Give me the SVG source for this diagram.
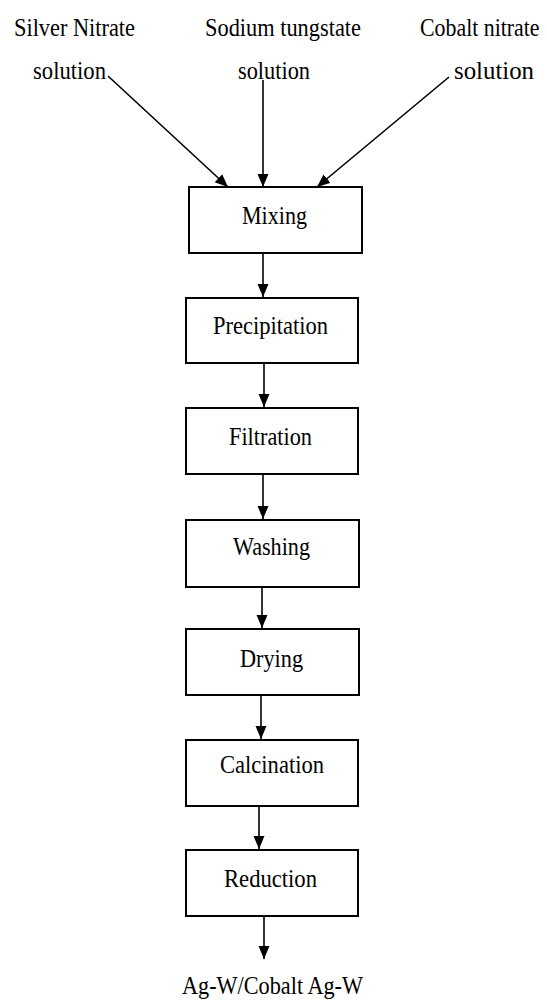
<svg xmlns="http://www.w3.org/2000/svg" width="547" height="1001" viewBox="0 0 547 1001">
<defs>
<marker id="ah" markerUnits="userSpaceOnUse" markerWidth="14" markerHeight="12" refX="13" refY="5.5" orient="auto">
<path d="M0,0 L13,5.5 L0,11 z" fill="#000"/>
</marker>
<style>
.box{fill:#fff;stroke:#000;stroke-width:2}
.t{font-family:"Liberation Serif","Times New Roman",Times,"DejaVu Serif","Noto Serif",serif;font-size:25px;fill:#000}
.c{stroke:#000;stroke-width:1.6;fill:none;marker-end:url(#ah)}
</style>
</defs>
<rect width="547" height="1001" fill="#fff"/>
<g id="in1"><text class="t" x="14" y="36" textLength="121" lengthAdjust="spacingAndGlyphs">Silver Nitrate</text><text class="t" x="33" y="79" textLength="73" lengthAdjust="spacingAndGlyphs">solution</text></g>
<g id="in2"><text class="t" x="205" y="36" textLength="156" lengthAdjust="spacingAndGlyphs">Sodium tungstate</text><text class="t" x="238" y="79" textLength="72" lengthAdjust="spacingAndGlyphs">solution</text></g>
<g id="in3"><text class="t" x="0" y="0" transform="translate(420,36) scale(0.875,1)">Cobalt nitrate</text><text class="t" x="454" y="79" textLength="80" lengthAdjust="spacingAndGlyphs">solution</text></g>
<g id="mixing"><rect class="box" x="189" y="187" width="173" height="66"/><text class="t" x="242" y="224" textLength="65" lengthAdjust="spacingAndGlyphs">Mixing</text></g>
<g id="precipitation"><rect class="box" x="186" y="298" width="172" height="65"/><text class="t" x="213" y="334" textLength="115" lengthAdjust="spacingAndGlyphs">Precipitation</text></g>
<g id="filtration"><rect class="box" x="186" y="408" width="172" height="66"/><text class="t" x="229" y="445" textLength="83" lengthAdjust="spacingAndGlyphs">Filtration</text></g>
<g id="washing"><rect class="box" x="186" y="520" width="173" height="67"/><text class="t" x="233" y="555" textLength="77" lengthAdjust="spacingAndGlyphs">Washing</text></g>
<g id="drying"><rect class="box" x="186" y="629" width="173" height="66"/><text class="t" x="240" y="667" textLength="63" lengthAdjust="spacingAndGlyphs">Drying</text></g>
<g id="calcination"><rect class="box" x="186" y="740" width="172" height="66"/><text class="t" x="220" y="773" textLength="104" lengthAdjust="spacingAndGlyphs">Calcination</text></g>
<g id="reduction"><rect class="box" x="186" y="850" width="172" height="66"/><text class="t" x="224" y="887" textLength="93" lengthAdjust="spacingAndGlyphs">Reduction</text></g>
<g id="output"><text class="t" x="182" y="994" textLength="181" lengthAdjust="spacingAndGlyphs">Ag-W/Cobalt Ag-W</text></g>
<g id="connectors">
<line class="c" x1="108" y1="76" x2="228" y2="187"/>
<line class="c" x1="263" y1="80" x2="263" y2="187"/>
<line class="c" x1="449" y1="77" x2="317" y2="187"/>
<line class="c" x1="263" y1="253" x2="263" y2="297"/>
<line class="c" x1="264" y1="363" x2="264" y2="407"/>
<line class="c" x1="263" y1="474" x2="263" y2="519"/>
<line class="c" x1="262" y1="587" x2="262" y2="628"/>
<line class="c" x1="261" y1="695" x2="261" y2="739"/>
<line class="c" x1="259" y1="806" x2="259" y2="849"/>
<line class="c" x1="264" y1="916" x2="264" y2="959"/>
</g>
</svg>
